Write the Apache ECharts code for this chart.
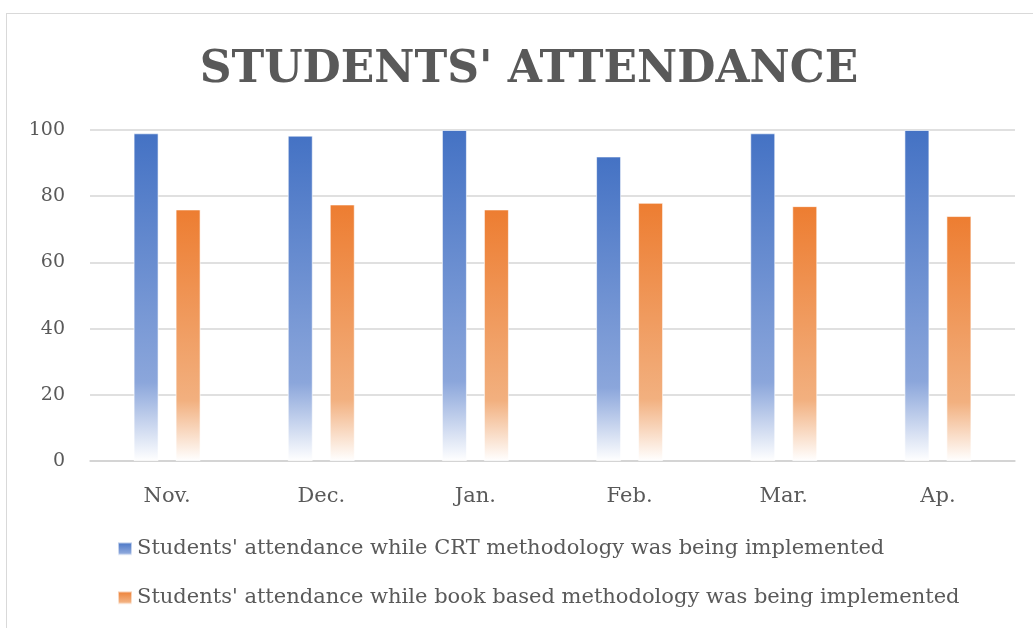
<!DOCTYPE html>
<html>
<head>
<meta charset="utf-8">
<script src="https://cdn.jsdelivr.net/npm/echarts@6/dist/echarts.min.js"></script>
<style>
  html, body { margin: 0; padding: 0; background: #fff; }
  #frame { position: absolute; left: 6px; top: 13px; width: 1040px; height: 630px; border: 1px solid #d9d9d9; box-sizing: border-box; }
  #chart { position: absolute; left: 0; top: 0; width: 1033px; height: 628px; }
</style>
</head>
<body>
<div id="frame"></div>
<div id="chart"></div>
<script>
const months = ['Nov.', 'Dec.', 'Jan.', 'Feb.', 'Mar.', 'Ap.']
const crtValues = [99, 98.3, 100, 92, 99, 100]
const bookValues = [76, 77.5, 76, 78, 77, 74]
const yTicks = [0, 20, 40, 60, 80, 100]

const serif = '"DejaVu Serif", "Liberation Serif", serif'

function fade(top, mid) {
  return new echarts.graphic.LinearGradient(0, 0, 0, 1, [
    { offset: 0, color: top },
    { offset: 0.76, color: mid },
    { offset: 1, color: '#ffffff' },
  ])
}

const myChart = echarts.init(document.getElementById('chart'))

myChart.setOption({
  animation: false,
  title: {
    text: "STUDENTS' ATTENDANCE",
    left: 524,
    textAlign: 'center',
    top: 44,
    textStyle: {
      fontFamily: serif,
      fontSize: 44,
      fontWeight: 'bold',
      color: '#595959',
    },
  },
  grid: {
    left: 90,
    right: 18,
    top: 130,
    bottom: 167,
  },
  legend: {
    orient: 'vertical',
    left: 117,
    top: 537,
    padding: 0,
    itemGap: 25,
    itemWidth: 14,
    itemHeight: 13,
    icon: 'rect',
    selectedMode: false,
    textStyle: {
      fontFamily: serif,
      fontSize: 21,
      lineHeight: 24,
      color: '#595959',
    },
  },
  xAxis: {
    type: 'category',
    data: months,
    axisLine: { lineStyle: { color: '#d0d0d0', width: 1.5 } },
    axisTick: { show: false },
    axisLabel: {
      fontFamily: serif,
      fontSize: 21,
      color: '#595959',
      margin: 25,
    },
  },
  yAxis: {
    type: 'value',
    min: yTicks[0],
    max: yTicks[yTicks.length - 1],
    interval: 20,
    axisLine: { show: false },
    axisTick: { show: false },
    axisLabel: {
      fontFamily: serif,
      fontSize: 19,
      color: '#595959',
      margin: 25,
    },
    splitLine: { lineStyle: { color: '#d6d6d6', width: 1.5 } },
  },
  series: [
    {
      name: "Students' attendance while CRT methodology was being implemented",
      type: 'bar',
      data: crtValues,
      barWidth: 25,
      barGap: '68%',
      itemStyle: {
        color: fade('#4472c4', '#8ba6db'),
        borderColor: 'rgba(255,255,255,0.6)',
        borderWidth: 1,
      },
    },
    {
      name: "Students' attendance while book based methodology was being implemented",
      type: 'bar',
      data: bookValues,
      barWidth: 25,
      itemStyle: {
        color: fade('#ed7d31', '#f2b07f'),
        borderColor: 'rgba(255,255,255,0.6)',
        borderWidth: 1,
      },
    },
  ],
})
</script>
</body>
</html>
